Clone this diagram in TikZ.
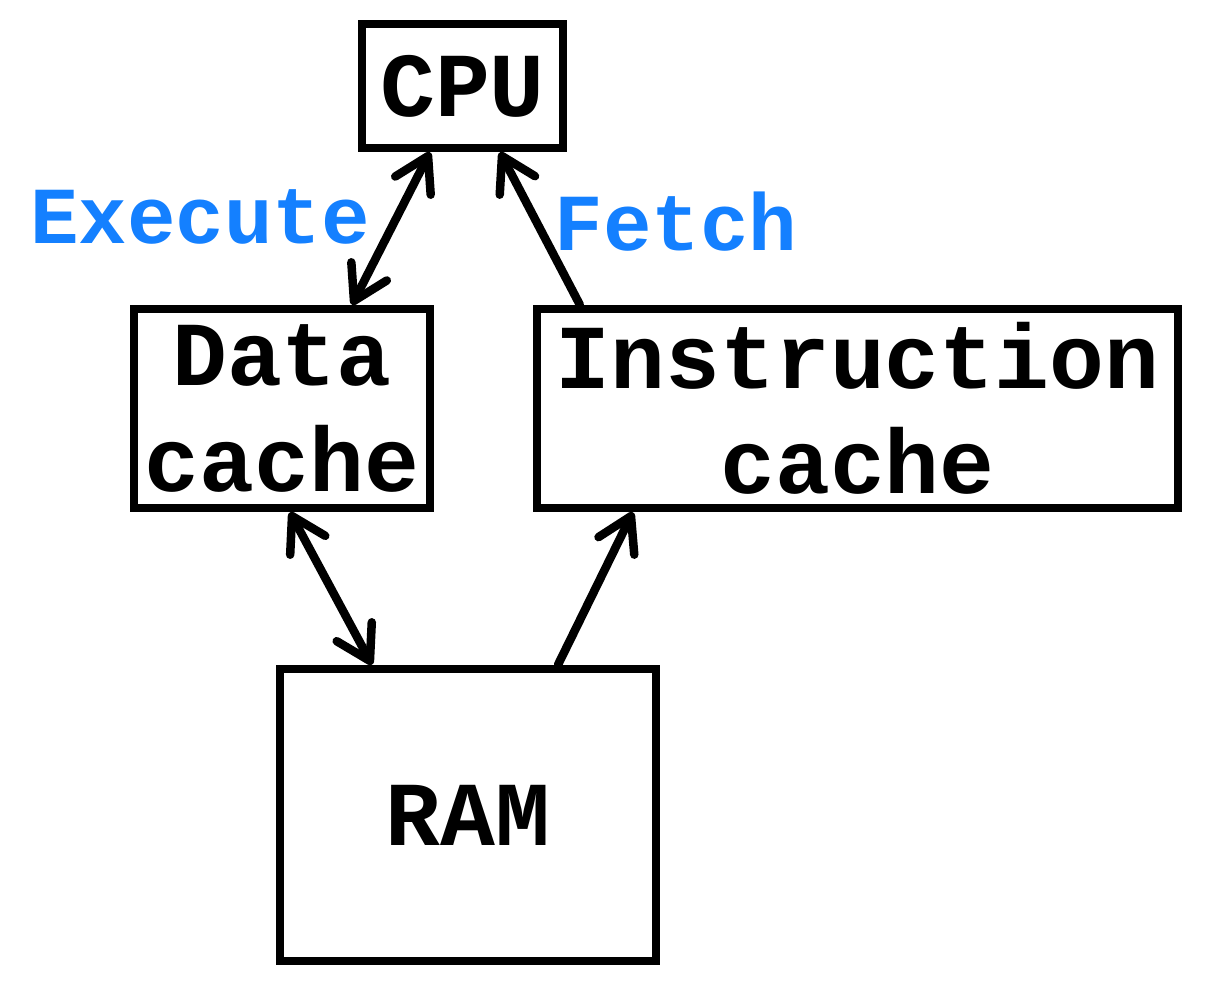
\documentclass[tikz,border=0pt]{standalone}
\usepackage{fontspec}
\setmonofont{Liberation Mono}
\usetikzlibrary{arrows.meta}
\definecolor{labelblue}{RGB}{20,128,255}
\tikzstyle{unit} = [draw=black, line width=0.085cm, align=center, inner sep=0pt, font={\ttfamily\bfseries\fontsize{26}{30}\selectfont}]
\tikzstyle{flow} = [line width=0.085cm, line cap=round, -{Straight Barb[angle=62:11pt, round]}]
\tikzstyle{twoway} = [flow, {Straight Barb[angle=62:11pt, round]}-{Straight Barb[angle=62:11pt, round]}]
\tikzstyle{lbl} = [text=labelblue, inner sep=0pt, font={\ttfamily\bfseries\fontsize{23}{27}\selectfont}]

\begin{document}
\begin{tikzpicture}[x=0.01cm, y=-0.01cm]
    \useasboundingbox[fill=white] (0,0) rectangle (1215,999);
    \node[unit, minimum width=2.01cm, minimum height=1.24cm](cpu) at (462.5,86){CPU};
    \node[unit, minimum width=2.96cm, minimum height=1.99cm](data) at (282,408.5){Data\\cache};
    \node[unit, minimum width=6.41cm, minimum height=1.99cm](instr) at (857.5,408.5){Instruction\\cache};
    \node[unit, minimum width=3.76cm, minimum height=2.92cm](ram) at (468,815){RAM};
    \node[lbl](exec) at (200,217){Execute};
    \node[lbl](fetch) at (676,222){Fetch};
    \draw[twoway]([xshift=-0.325cm]cpu.south)--([xshift=0.7cm]data.north);
    \draw[flow]([xshift=-2.775cm]instr.north)--([xshift=0.375cm]cpu.south);
    \draw[twoway]([xshift=0.08cm]data.south)--([xshift=-0.96cm]ram.north);
    \draw[flow]([xshift=0.9cm]ram.north)--([xshift=-2.245cm]instr.south);
  \end{tikzpicture}
\end{document}
